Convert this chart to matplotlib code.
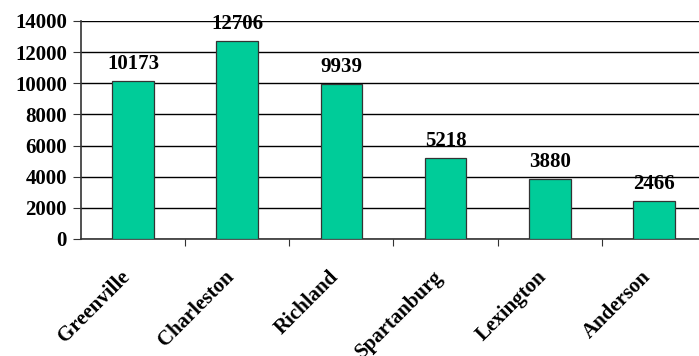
import numpy as np
import matplotlib
matplotlib.use("Agg")
import matplotlib.pyplot as plt
import matplotlib.transforms as mtransforms
from matplotlib.ticker import FixedLocator

counties = ["Greenville", "Charleston", "Richland", "Spartanburg", "Lexington", "Anderson"]
counts = [10173, 12706, 9939, 5218, 3880, 2466]
y_ticks = [0, 2000, 4000, 6000, 8000, 10000, 12000, 14000]

plt.rcParams["font.family"] = "Liberation Serif"
plt.rcParams["font.weight"] = "bold"

fig = plt.figure(figsize=(6.99, 3.56), dpi=100)
# axes runs a little past the right edge of the canvas
ax = fig.add_axes([81 / 699, 117 / 356, 625 / 699, 218 / 356])

x = np.arange(len(counties))
ax.bar(x, counts, width=0.4, color="#00CC99", edgecolor="#333333", linewidth=0.9, zorder=3)

# value labels sit under the gridlines
for xi, v in zip(x, counts):
    ax.text(xi, v + 450, str(v), ha="center", va="bottom", fontsize=15,
            fontweight="bold", zorder=0.4)

ax.set_xlim(-0.5, len(counties) - 0.5)
ax.set_ylim(0, 14000)
ax.set_yticks(y_ticks)
ax.set_yticklabels([str(t) for t in y_ticks], fontsize=15, fontweight="bold")
ax.set_axisbelow(True)
ax.yaxis.grid(True, color="black", linewidth=1.0)

# category labels sit between boundary ticks
ax.xaxis.set_major_locator(FixedLocator(np.arange(0.5, len(counties) - 0.5, 1.0)))
ax.xaxis.set_major_formatter(plt.NullFormatter())
ax.set_xticks(x, minor=True)
ax.set_xticklabels(counties, minor=True, rotation=45, ha="right", va="top",
                   rotation_mode="anchor", fontsize=15, fontweight="bold")
ax.tick_params(axis="x", which="minor", length=0, pad=20)
ax.tick_params(axis="x", which="major", length=5, direction="out", color="#333333")
ax.tick_params(axis="y", length=6, direction="out", color="#333333", pad=4)

shift = mtransforms.ScaledTranslation(-13 / 100, 0, fig.dpi_scale_trans)
for lbl in ax.xaxis.get_minorticklabels():
    lbl.set_transform(lbl.get_transform() + shift)

for side in ["top", "right"]:
    ax.spines[side].set_visible(False)
ax.spines["left"].set_color("#333333")
ax.spines["bottom"].set_color("#333333")
ax.spines["left"].set_linewidth(1.2)
ax.spines["bottom"].set_linewidth(1.2)

fig.savefig("out.png", dpi=100)
